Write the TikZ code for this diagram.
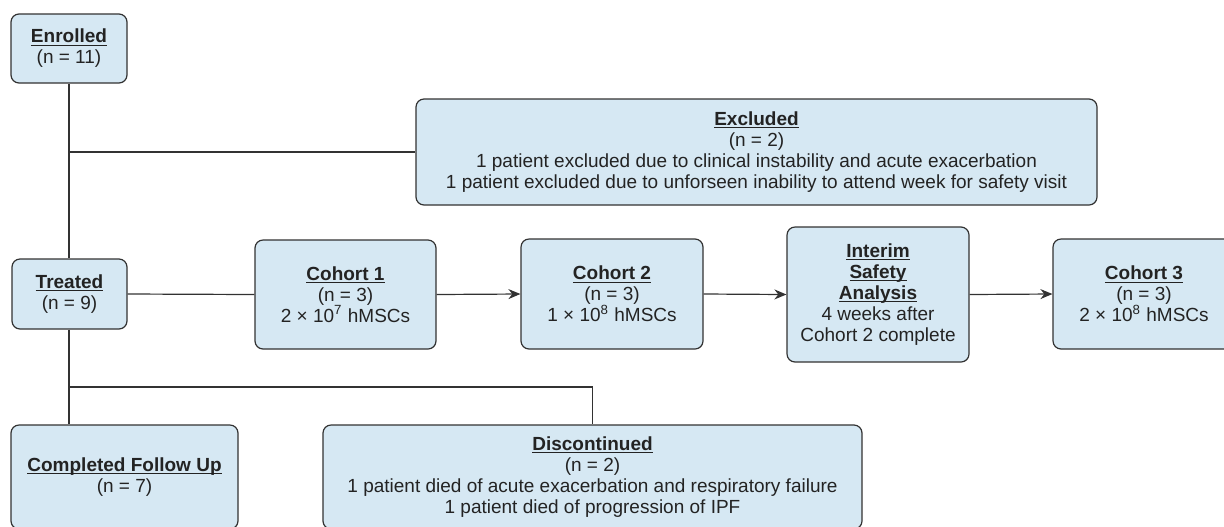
\documentclass[tikz,border=0pt]{standalone}
\usepackage{fontspec}
\setmainfont{Liberation Sans}
\usetikzlibrary{arrows.meta}

\definecolor{boxfill}{RGB}{214,232,243}
\definecolor{boxline}{RGB}{50,50,50}
\definecolor{inktext}{RGB}{35,35,35}

\tikzset{
    flowbox/.style={draw=boxline,fill=boxfill,line width=0.6pt,rounded corners=4pt,
        align=center,text=inktext,inner sep=2pt,
        font=\fontsize{9.5}{10.5}\selectfont},
    link/.style={draw=boxline,line width=0.6pt},
    flowarrow/.style={link,-{Stealth[length=6pt,width=5pt]}}
}
% fette, unterstrichene Ueberschrift mit fester Linienlage
\newcommand{\head}[1]{\setbox0\hbox{\textbf{#1}}\rlap{\rule[-1.5pt]{\wd0}{0.5pt}}\box0}

\begin{document}
\begin{tikzpicture}[x=0.5pt,y=-0.5pt]
        \useasboundingbox (0,0) rectangle (1224,526);

        % obere Reihe
        \node[flowbox,minimum width=58pt,minimum height=34.5pt] (enrolled) at (69,48.5)
            {\head{Enrolled}\\(n = 11)};
        \node[flowbox,minimum width=340.5pt,minimum height=53pt] (excluded) at (756.5,152)
            {\head{Excluded}\\(n = 2)\\
             1 patient excluded due to clinical instability and acute exacerbation\\
             1 patient excluded due to unforseen inability to attend week for safety visit};

        % mittlere Reihe
        \node[flowbox,minimum width=57.5pt,minimum height=35pt] (treated) at (69.5,294)
            {\head{Treated}\\(n = 9)};
        \node[flowbox,minimum width=90.5pt,minimum height=54.5pt] (cohort1) at (345.5,294.5)
            {\head{Cohort 1}\\(n = 3)\\2 × 10\textsuperscript{7} hMSCs};
        \node[flowbox,minimum width=91pt,minimum height=55pt] (cohort2) at (612,294)
            {\head{Cohort 2}\\(n = 3)\\1 × 10\textsuperscript{8} hMSCs};
        \node[flowbox,minimum width=91pt,minimum height=67.5pt] (interim) at (878,294.5)
            {\head{Interim}\\\head{Safety}\\\head{Analysis}\\4 weeks after\\Cohort 2 complete};
        \node[flowbox,minimum width=91pt,minimum height=55pt] (cohort3) at (1144,294)
            {\head{Cohort 3}\\(n = 3)\\2 × 10\textsuperscript{8} hMSCs};

        % untere Reihe
        \node[flowbox,minimum width=113.5pt,minimum height=52pt] (completed) at (124.5,477)
            {\head{Completed Follow Up}\\(n = 7)};
        \node[flowbox,minimum width=269.5pt,minimum height=52pt] (discont) at (592.5,477)
            {\head{Discontinued}\\(n = 2)\\
             1 patient died of acute exacerbation and respiratory failure\\
             1 patient died of progression of IPF};

        % Verbindungen
        \coordinate (exjoin) at (enrolled.south |- excluded.west);
        \coordinate (split) at (69,387);
        \draw[link] (enrolled.south) -- (enrolled.south |- treated.north);
        \draw[link] (exjoin) -- (excluded.west);
        \draw[link] (treated.east) -- (cohort1.west);
        \draw[flowarrow] (cohort1.east) -- (cohort2.west);
        \draw[flowarrow] (cohort2.east) -- (interim.west);
        \draw[flowarrow] (interim.east) -- (cohort3.west);
        \draw[link] (treated.south -| split) -- (split |- completed.north);
        \draw[link] (split) -| (discont.north);
    \end{tikzpicture}
\end{document}
